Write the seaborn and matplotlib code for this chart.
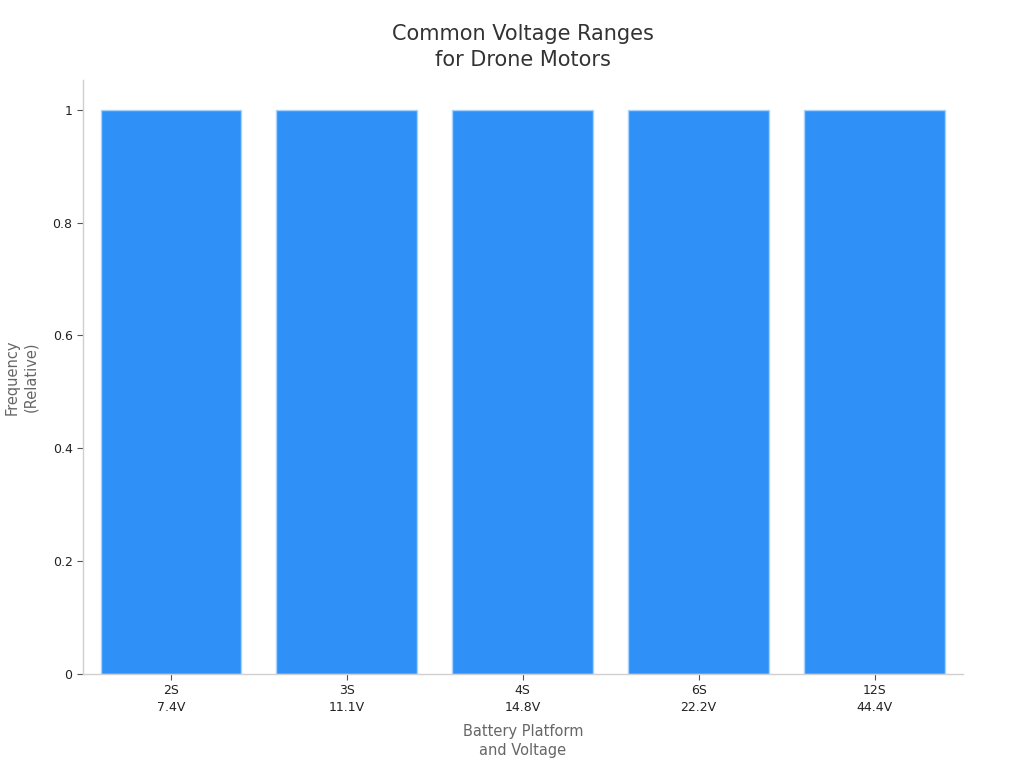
import matplotlib
matplotlib.use("Agg")
import matplotlib.pyplot as plt
import seaborn as sns
import pandas as pd
from matplotlib.ticker import FuncFormatter

categories = ["2S\n7.4V", "3S\n11.1V", "4S\n14.8V", "6S\n22.2V", "12S\n44.4V"]
frequency = [1, 1, 1, 1, 1]

df = pd.DataFrame({"platform": categories, "freq": frequency})

sns.set_theme(style="ticks")
plt.rcParams['font.family'] = ['DejaVu Sans']

fig = plt.figure(figsize=(10.24, 7.68), dpi=100)
ax = fig.add_axes([0.081, 0.1224, 0.859, 0.7736])

sns.barplot(data=df, x="platform", y="freq", color="#2f91f7", saturation=1,
            width=0.8, edgecolor="#a9d3fb", linewidth=1, ax=ax)

ax.set_xlim(-0.5, 4.5)
ax.set_ylim(0, 1.053)
ax.set_yticks([0, 0.2, 0.4, 0.6, 0.8, 1.0])
ax.yaxis.set_major_formatter(FuncFormatter(lambda v, p: f"{v:g}"))

for s in ["top", "right"]:
    ax.spines[s].set_visible(False)
for s in ["left", "bottom"]:
    ax.spines[s].set_color("#d0d0d0")
    ax.spines[s].set_linewidth(1)
ax.tick_params(axis="both", colors="#555555", labelcolor="#222222", labelsize=9, length=4, width=0.8)
for lbl in ax.get_xticklabels():
    lbl.set_linespacing(1.35)

ax.set_xlabel("Battery Platform\nand Voltage", fontsize=10.5, color="#666666", labelpad=7, linespacing=1.4)
ax.set_ylabel("Frequency\n(Relative)", fontsize=10.5, color="#666666", labelpad=10, linespacing=1.3)
ax.set_title("Common Voltage Ranges\nfor Drone Motors", fontsize=15, color="#333333", pad=10, linespacing=1.4)

fig.savefig("out.png", dpi=100)
